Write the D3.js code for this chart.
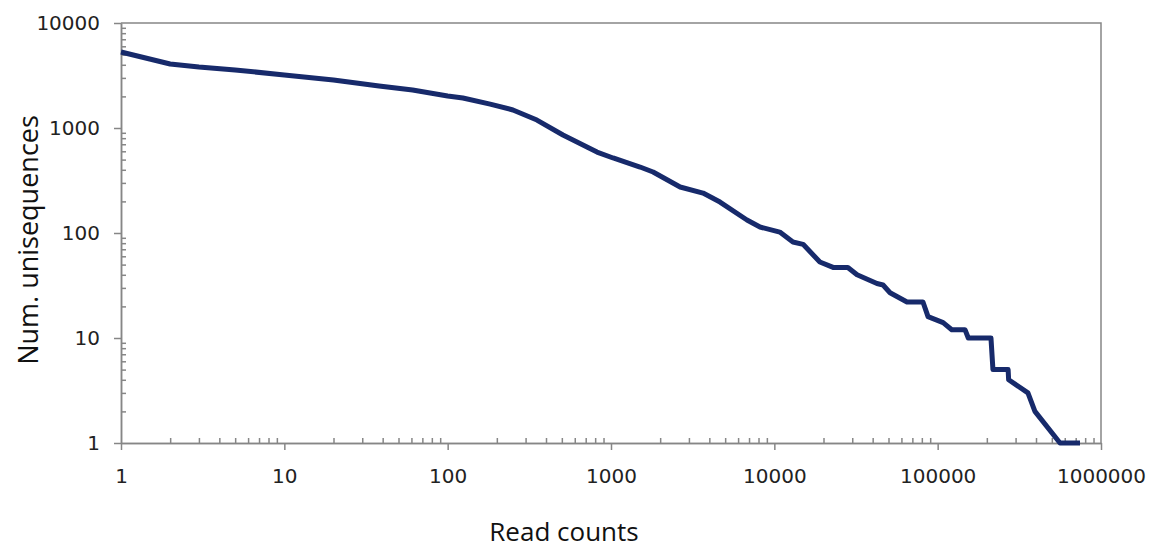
<!DOCTYPE html>
<head>
    <script src="https://d3js.org/d3.v7.min.js"></script>
    <style>
        body { margin: 0; background: #fff; }
    </style>
</head>
<body>
<svg></svg>
</body>

<script>
    // rank-abundance values
    var readCounts = [1, 2, 3, 5, 10, 20, 38, 61, 100, 124, 182, 251, 352, 508, 821, 1030,
        1506, 1810, 2650, 3660, 4650, 6800, 8170, 10800, 13000, 15000, 19000, 22900, 28200,
        32100, 42500, 46300, 51100, 64900, 81300, 87300, 108000, 122000, 147000, 154000,
        212000, 218000, 270000, 272000, 357000, 394000, 561000, 744000];
    var numUniseq = [5300, 4070, 3810, 3570, 3200, 2870, 2510, 2300, 2020, 1930, 1690, 1485,
        1190, 857, 590, 518, 425, 381, 274, 240, 197, 133, 114, 102, 82, 78, 53, 47, 47,
        40, 33, 32, 27, 22, 22, 16, 14, 12, 12, 10, 10, 5, 5, 4, 3, 2, 1, 1];

    var xTicks = [1, 10, 100, 1000, 10000, 100000, 1000000];
    var yTicks = [1, 10, 100, 1000, 10000];

    // Variables
    var width = 1149;
    var height = 549;
    var plotL = 121, plotR = 1101, plotT = 23, plotB = 443;
    var axisColor = '#868686';

    var svg = d3.select('svg')
        .attr('width', width)
        .attr('height', height);

    var x = d3.scaleLog().domain([1, 1000000]).range([plotL, plotR]);
    var y = d3.scaleLog().domain([1, 10000]).range([plotB, plotT]);

    // minor ticks 2..9 in every decade
    function minors(ticks) {
        var out = [];
        ticks.slice(0, -1).forEach(function (t) {
            for (var k = 2; k < 10; k++) out.push(t * k);
        });
        return out;
    }

    // frame (top + right)
    svg.append('path')
        .attr('d', 'M' + plotL + ',' + plotT + 'H' + plotR + 'V' + plotB)
        .attr('fill', 'none')
        .attr('stroke', axisColor)
        .attr('stroke-width', 1.5);

    // x axis: minor ticks point inward, major ticks outward
    svg.append('g')
        .attr('transform', 'translate(0,' + plotB + ')')
        .call(d3.axisBottom(x).tickValues(minors(xTicks)).tickSize(-5).tickSizeOuter(0).tickFormat(''));
    var gx = svg.append('g')
        .attr('transform', 'translate(0,' + plotB + ')')
        .call(d3.axisBottom(x).tickValues(xTicks).tickSize(7).tickSizeOuter(0)
            .tickFormat(d3.format('d')));

    // y axis
    svg.append('g')
        .attr('transform', 'translate(' + plotL + ',0)')
        .call(d3.axisLeft(y).tickValues(minors(yTicks)).tickSize(-5).tickSizeOuter(0).tickFormat(''));
    var gy = svg.append('g')
        .attr('transform', 'translate(' + plotL + ',0)')
        .call(d3.axisLeft(y).tickValues(yTicks).tickSize(7).tickSizeOuter(0)
            .tickFormat(d3.format('d')));

    svg.selectAll('.domain, .tick line')
        .attr('stroke', axisColor)
        .attr('stroke-width', 1.5);

    gx.selectAll('.tick text')
        .attr('y', 26)
        .attr('dy', '0.71em')
        .style('font-family', 'DejaVu Sans, Verdana, sans-serif')
        .style('font-size', '20px')
        .attr('fill', '#222');

    gy.selectAll('.tick text')
        .attr('x', -21)
        .style('font-family', 'DejaVu Sans, Verdana, sans-serif')
        .style('font-size', '20px')
        .attr('fill', '#222');

    // axis titles
    svg.append('text')
        .attr('x', 564)
        .attr('y', 541)
        .attr('text-anchor', 'middle')
        .style('font-family', 'Open Sans, sans-serif')
        .style('font-size', '26px')
        .attr('fill', '#111')
        .text('Read counts');

    svg.append('text')
        .attr('transform', 'translate(38,240) rotate(-90)')
        .attr('text-anchor', 'middle')
        .style('font-family', 'Open Sans, sans-serif')
        .style('font-size', '27px')
        .attr('fill', '#111')
        .text('Num. unisequences');

    // the curve
    var line = d3.line()
        .x(function (d, i) { return x(readCounts[i]); })
        .y(function (d) { return y(d); });

    svg.append('path')
        .datum(numUniseq)
        .attr('d', line)
        .attr('fill', 'none')
        .attr('stroke', '#172a6b')
        .attr('stroke-width', 5)
        .attr('stroke-linejoin', 'round');
</script>
